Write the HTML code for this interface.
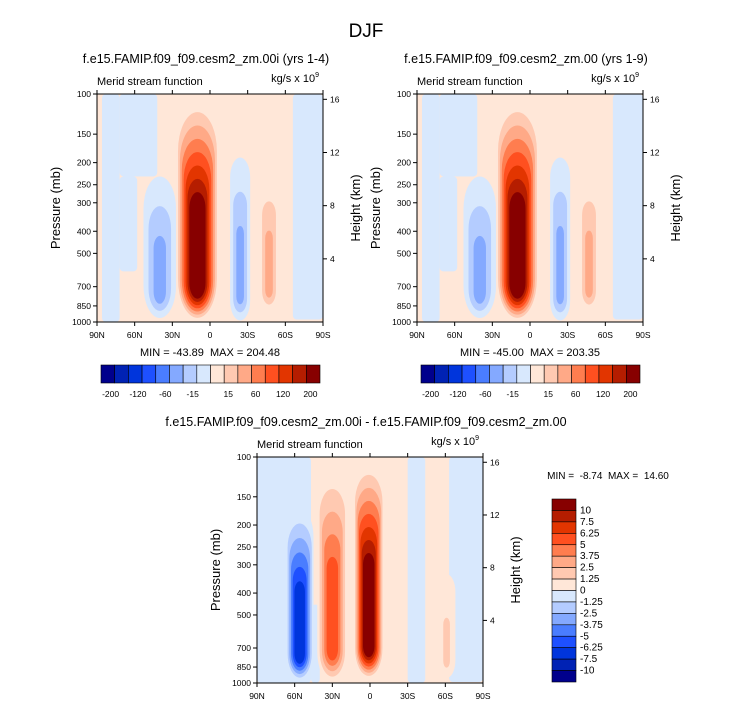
<!DOCTYPE html>
<html><head><meta charset="utf-8"><style>
body{margin:0;background:#fff;}
svg{font-family:"Liberation Sans",Arial,sans-serif;}
text{white-space:pre;}
</style></head><body>
<svg id="s" width="733" height="708" viewBox="0 0 733 708" xmlns="http://www.w3.org/2000/svg">
<text x="366" y="37" font-size="19" text-anchor="middle">DJF</text>
</svg>
<script>
const palette=['#00008c','#0022b4','#0035dc','#1e50ff','#4a7dff','#84a9ff','#b4ccff','#d8e8fd','#ffe7d8','#ffc9b1','#ffa987','#ff7d4f','#ff5020','#e23500','#b51d00','#870000'];
const latTicks=['90N','60N','30N','0','30S','60S','90S'];
const pTicks=[100,150,200,250,300,400,500,700,850,1000];
const hTicks=[16,12,8,4];
// flat regions: lat1, lat2, top p, bottom p, level
const regionsA=[[86,72,100,1000,7],[72,42,100,230,7],[72,58,230,600,7],[-66,-90,100,975,7]];
const regionsD=[[90,47,100,1000,7],[47,40,450,1000,7],[-30,-44,100,1000,7],[-63,-90,100,990,7]];
// blobs: lat center, lat half-width, top p, bottom p, start level, end level
const blobsA=[[40,13,230,960,7,5],[10,17,105,990,8,15],[-24,8,190,985,7,5],[-47,8,220,900,8,10]];
const blobsB=[[40,13,230,960,7,5],[10,17,105,990,8,15],[-24,8,190,985,7,5],[-47,8,220,900,8,10]];
const blobsD=[[56,11,170,980,7,2],[30,12,110,990,8,12],[1,12,105,960,8,15],[-61,7,330,950,8,9]];
const svg=document.getElementById('s');const NS='http://www.w3.org/2000/svg';
function el(t,a,p){const e=document.createElementNS(NS,t);for(const k in a)e.setAttribute(k,a[k]);(p||svg).appendChild(e);return e;}
function txt(x,y,s,size,anchor,p){const e=el('text',{x:x,y:y,'font-size':size,'text-anchor':anchor||'start'},p);e.textContent=s;return e;}
function panel(id,x0,y0,x1,y1,regions,blobs,title,bg){
 const g=el('g',{});
 
 
 const xOf=lat=>x0+(90-lat)/180*(x1-x0);
 const yOf=p=>y0+Math.log10(p/100)*(y1-y0);
 el('clipPath',{id:'c'+id},g);el('rect',{x:x0,y:y0,width:x1-x0,height:y1-y0},g.lastChild);
 const cg=el('g',{'clip-path':'url(#c'+id+')'},g);
 el('rect',{x:x0,y:y0,width:x1-x0,height:y1-y0,fill:palette[bg]},cg);
 regions.forEach(r=>{const a=xOf(r[0]),b=xOf(r[1]);
  const e=el('rect',{x:a,y:yOf(r[2]),width:b-a,height:yOf(r[3])-yOf(r[2]),rx:4,fill:palette[r[4]]},cg);
  
  });
 blobs.forEach(b=>{
  const [lat,hw,pt,pb,l0,l1]=b;const n=Math.abs(l1-l0)+1;const dir=l1>=l0?1:-1;
  const yt=yOf(pt),yb=yOf(pb),xc=xOf(lat),w=hw/180*(x1-x0),H=yb-yt;
  for(let i=0;i<n;i++){const f=n>1?i/(n-1):0;
   const ww=w*(1-0.62*f),t=yt+H*0.42*f,bt=yb-H*0.1*f;
   const r=el('rect',{x:xc-ww,y:t,width:2*ww,height:bt-t,rx:ww,ry:Math.min(ww*2,(bt-t)/2),fill:palette[l0+dir*i]},cg);
   
   
  }});
 el('rect',{x:x0,y:y0,width:x1-x0,height:y1-y0,fill:'none',stroke:'#000','stroke-width':1},g);
 latTicks.forEach((t,i)=>{const x=x0+i/(latTicks.length-1)*(x1-x0);
  el('line',{x1:x,x2:x,y1:y1,y2:y1+4,stroke:'#000'},g);el('line',{x1:x,x2:x,y1:y0,y2:y0-4,stroke:'#000'},g);
  txt(x,y1+16,t,8.5,'middle',g);});
 pTicks.forEach(p=>{const y=yOf(p);el('line',{x1:x0-4,x2:x0,y1:y,y2:y,stroke:'#000'},g);txt(x0-6,y+3,p,8.5,'end',g);});
 hTicks.forEach(h=>{const y=y1-(y1-y0)*(h+0.75)/17.15;el('line',{x1:x1,x2:x1+4,y1:y,y2:y,stroke:'#000'},g);txt(x1+7,y+3,h,8.5,'start',g);});
 txt(x0,y0-9,'Merid stream function',11,'start',g);
 const u=txt(x1-4,y0-12,'kg/s x 10',11,'end',g);const sp=el('tspan',{dy:-5,'font-size':7},u);sp.textContent='9';
 txt((x0+x1)/2-4,y0-31,title,12.5,'middle',g);
 const yl=txt(0,0,'Pressure (mb)',13,'middle',g);yl.setAttribute('transform','translate('+(x0-37)+','+((y0+y1)/2)+') rotate(-90)');
 const hl=txt(0,0,'Height (km)',13,'middle',g);hl.setAttribute('transform','translate('+(x1+37)+','+((y0+y1)/2)+') rotate(-90)');
 return g;}
panel('panel-model-00i',97,94,323,322,regionsA,blobsA,'f.e15.FAMIP.f09_f09.cesm2_zm.00i (yrs 1-4)',8);
txt(210,356,'MIN = -43.89  MAX = 204.48',11,'middle');
panel('panel-model-00',417,94,643,322,regionsA,blobsB,'f.e15.FAMIP.f09_f09.cesm2_zm.00 (yrs 1-9)',8);
txt(530,356,'MIN = -45.00  MAX = 203.35',11,'middle');
panel('panel-difference',257,457,483,683,regionsD,blobsD,'f.e15.FAMIP.f09_f09.cesm2_zm.00i - f.e15.FAMIP.f09_f09.cesm2_zm.00',8);
txt(608,479,'MIN =  -8.74  MAX =  14.60',10,'middle');
const hLabels=['-200','-120','-60','-15','15','60','120','200'];
[[101],[421]].forEach(([cx],k)=>{const g=el('g',{});
 
 
 const w=219/16;
 palette.forEach((c,i)=>el('rect',{x:cx+i*w,y:365,width:w,height:18,fill:c,stroke:'#000','stroke-width':0.6},g));
 hLabels.forEach((l,i)=>txt(cx+(2*i+1)*w-w*0.3+(i>=4?w*0.6:0),397,l,8.5,'middle',g));});
const vLabels=['10','7.5','6.25','5','3.75','2.5','1.25','0','-1.25','-2.5','-3.75','-5','-6.25','-7.5','-10'];
const vg=el('g',{});


const hh=183/16;
palette.slice().reverse().forEach((c,i)=>el('rect',{x:552,y:499+i*hh,width:24,height:hh,fill:c,stroke:'#000','stroke-width':0.6},vg));
vLabels.forEach((l,i)=>txt(580,499+(i+1)*hh+3,l,10,'start',vg));
</script>
</body></html>
